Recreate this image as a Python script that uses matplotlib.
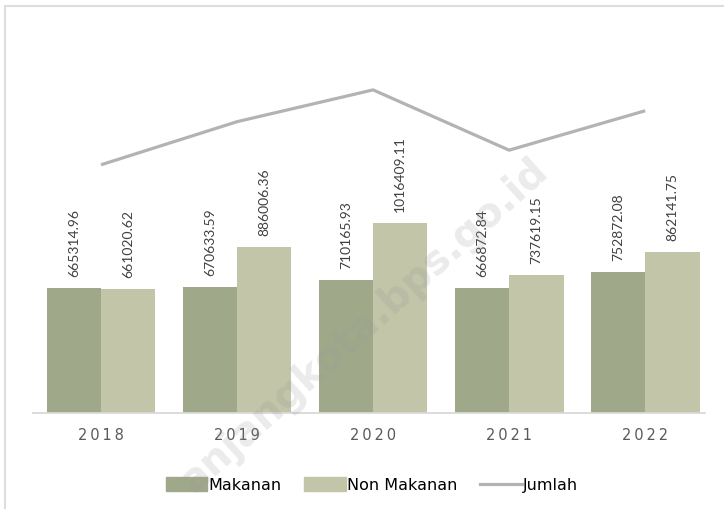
import matplotlib
matplotlib.use("Agg")
import matplotlib.pyplot as plt
from matplotlib.patches import Rectangle, Patch
from matplotlib.lines import Line2D
import numpy as np

plt.rcParams['font.family'] = ['Lato', 'DejaVu Sans']

tahun = ['2018', '2019', '2020', '2021', '2022']
makanan = [665314.96, 670633.59, 710165.93, 666872.84, 752872.08]
non_makanan = [661020.62, 886006.36, 1016409.11, 737619.15, 862141.75]
jumlah = [m + n for m, n in zip(makanan, non_makanan)]

c_mak = '#A0A88A'
c_non = '#C2C5A8'
c_jml = '#B3B3B3'

fig = plt.figure(figsize=(7.24, 5.09), dpi=100)
W, H = 724, 509
ax = fig.add_axes([33 / W, 1 - 413 / H, 672 / W, 393 / H])

x = np.arange(len(tahun))
w = 0.4
b1 = ax.bar(x - w / 2, makanan, w, color=c_mak, zorder=2)
b2 = ax.bar(x + w / 2, non_makanan, w, color=c_non, zorder=2)
ax.plot(x, jumlah, color=c_jml, lw=2.3, zorder=3, solid_capstyle='butt')

for bars, vals in ((b1, makanan), (b2, non_makanan)):
    for r, v in zip(bars, vals):
        ax.annotate('%.2f' % v, (r.get_x() + r.get_width() / 2, v),
                    xytext=(0, 8), textcoords='offset points',
                    rotation=90, ha='center', va='bottom',
                    fontsize=10, color='#404040')

ax.set_xlim(-0.5, 4.44)
ax.set_ylim(0, 2100000)
ax.set_xticks(x)
ax.set_xticklabels(['\u2009'.join(t) for t in tahun], fontsize=10.5,
                   color='#595959', family=['DejaVu Sans'])
ax.tick_params(axis='x', length=0, pad=11)
ax.set_yticks([])
for s in ['top', 'left', 'right']:
    ax.spines[s].set_visible(False)
ax.spines['bottom'].set_color('#D9D9D9')
ax.spines['bottom'].set_linewidth(1.3)

handles = [Patch(color=c_mak), Patch(color=c_non),
           Line2D([0], [0], color=c_jml, lw=2.3)]
fig.legend(handles, ['Makanan', 'Non Makanan', 'Jumlah'],
           loc='center', bbox_to_anchor=(372 / W, 1 - 485 / H), ncol=3,
           frameon=False, handlelength=2.6, handleheight=0.9,
           handletextpad=0.1, columnspacing=1.4,
           prop={'family': ['DejaVu Sans'], 'size': 11.5})

# border of the chart area
fig.patches.append(Rectangle((5 / W, -0.1), 1.1, 1 - 6 / H + 0.1,
                             transform=fig.transFigure, fill=False,
                             edgecolor='#DDDDDD', lw=1.5))

# watermark
fig.text(550 / W, 1 - 174 / H, 'anjangkota.bps.go.id', rotation=42,
         rotation_mode='anchor', ha='right', va='baseline', fontsize=29,
         fontweight='bold', color='#999999', alpha=0.2, zorder=10,
         family=['DejaVu Sans'])

fig.savefig('out.png', dpi=100)
